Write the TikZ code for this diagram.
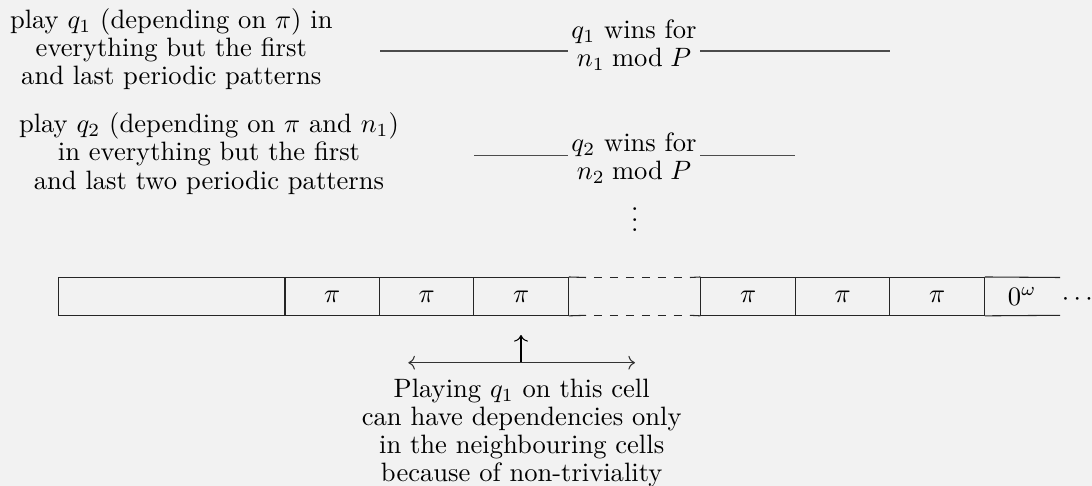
\documentclass[tikz,border=0pt]{standalone}
\usetikzlibrary{arrows.meta}
\definecolor{paper}{HTML}{F2F2F2}
\begin{document}
\begin{tikzpicture}[x=0.013236cm, y=-0.013236cm,
  txt/.style={align=center, inner sep=0pt, font=\fontsize{10}{10.6}\selectfont},
  cell/.style={draw=black!85, line width=0.4pt, minimum height=0.5cm, inner sep=0pt},
  picell/.style={cell, minimum width=1.25cm},
  rule/.style={draw=black!70, line width=0.45pt},
  tape/.style={draw=black!85, line width=0.4pt}]
\fill[paper] (0,0) rectangle (1092,486);
\useasboundingbox (0,0) rectangle (1092,486);

% explanations on the left (anchored on the baseline of the last line)
\node[txt, anchor=base] (play1) at (171.3,84.5)
  {play $q_1$ (depending on $\pi$) in\\ everything but the first\\ and last periodic patterns};
\node[txt, anchor=base] (play2) at (209,189)
  {play $q_2$ (depending on $\pi$ and $n_1$)\\ in everything but the first\\ and last two periodic patterns};

% winning conditions with their spans
\node[txt, anchor=base, inner xsep=1.2pt] (win1) at (634,66.5) {$q_1$ wins for\\ $n_1 \bmod P$};
\node[txt, anchor=base, inner xsep=1.2pt] (win2) at (634,179.5) {$q_2$ wins for\\ $n_2 \bmod P$};
\node[anchor=base, inner sep=0pt] (more1) at (634.7,231.8) {$\vdots$};

\coordinate (s1a) at (380,51);
\coordinate (s1b) at (890,51);
\coordinate (s2a) at (474,155.5);
\coordinate (s2b) at (795,155.5);
\draw[rule] (s1a) -- (win1.west |- s1a);
\draw[rule] (win1.east |- s1b) -- (s1b);
\draw[rule] (s2a) -- (win2.west |- s2a);
\draw[rule] (win2.east |- s2b) -- (s2b);

% the tape
\node[cell, minimum width=3cm] (c0) at (171.65,296.4) {};
\node[picell] (p1) at (332.2,296.4) {$\pi$};
\node[picell] (p2) at (426.6,296.4) {$\pi$};
\node[picell] (p3) at (521.1,296.4) {$\pi$};
\node[picell] (p4) at (748.1,296.4) {$\pi$};
\node[picell] (p5) at (842.6,296.4) {$\pi$};
\node[picell] (p6) at (937.1,296.4) {$\pi$};
\node[inner sep=0pt] (om) at (1022.2,296.4) {$0^\omega$};
\node[anchor=base, inner sep=0pt] (more2) at (1077.3,305.6) {$\cdots$};

% the elided part of the tape
\coordinate (gt1) at (586,277.5);
\coordinate (gt2) at (690,277.5);
\coordinate (gb1) at (586,315.3);
\coordinate (gb2) at (690,315.3);
\draw[tape] (p3.north east) -- (gt1);
\draw[tape, dash pattern=on 3pt off 3pt, dash phase=3pt] (gt1) -- (gt2);
\draw[tape] (gt2) -- (p4.north west);
\draw[tape] (p3.south east) -- (gb1);
\draw[tape, dash pattern=on 3pt off 3pt, dash phase=3pt] (gb1) -- (gb2);
\draw[tape] (gb2) -- (p4.south west);

% open end of the last cell
\coordinate (et) at (1060,277.5);
\coordinate (eb) at (1060,315.3);
\draw[tape] (p6.north east) -- (et);
\draw[tape] (p6.south east) -- (eb);

% dependency arrows
\coordinate (tip) at (521,335);
\coordinate (foot) at (521,362.7);
\coordinate (hl) at (408.3,362.7);
\coordinate (hr) at (635,362.7);
\draw[->] (foot) -- (tip);
\draw[<->, draw=black!80] (hl) -- (hr);

\node[txt, anchor=base] (note) at (521.7,481.7)
  {Playing $q_1$ on this cell\\ can have dependencies only\\ in the neighbouring cells\\ because of non-triviality};
\end{tikzpicture}
\end{document}
